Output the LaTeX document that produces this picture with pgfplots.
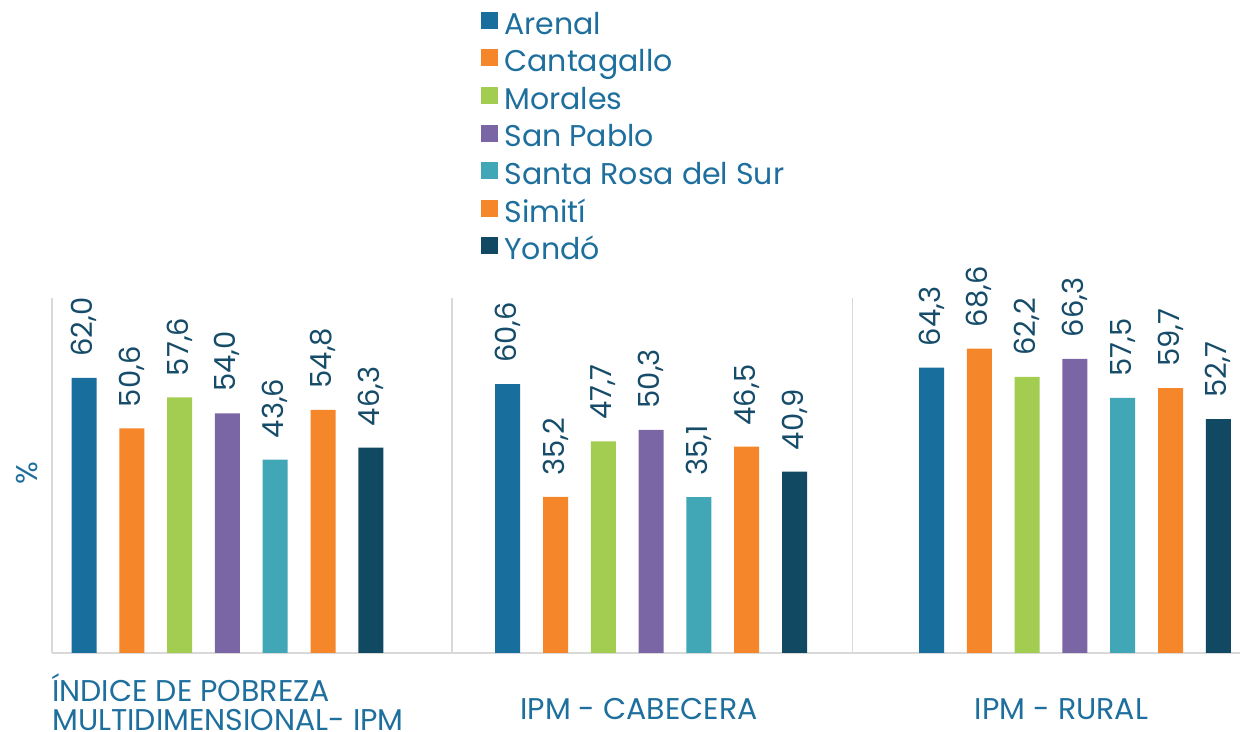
\documentclass[border=0pt]{standalone}
\usepackage{fontspec}
\setmainfont{Poppins}
\usepackage{pgfplots}
\pgfplotsset{compat=1.18}
\definecolor{cA}{HTML}{186E9C}
\definecolor{cB}{HTML}{F5862A}
\definecolor{cC}{HTML}{A2CD50}
\definecolor{cD}{HTML}{7B66A5}
\definecolor{cE}{HTML}{41A7B6}
\definecolor{cF}{HTML}{F5862A}
\definecolor{cG}{HTML}{114963}
\definecolor{txt}{HTML}{1F6F9E}
\definecolor{lbl}{HTML}{164C69}
\definecolor{gridgray}{HTML}{D9D9D9}
\begin{document}
\begin{tikzpicture}
\begin{axis}[
  scale only axis, width=594pt, height=177.5pt,
  xmin=52, xmax=1240, ymin=0, ymax=80,
  axis lines*=left,
  axis line style={draw=gridgray, line width=1pt},
  ytick=\empty,
  xtick={228,639,1061.5},
  xticklabels={{\smash{Í}NDICE DE POBREZA\\MULTIDIMENSIONAL- IPM},{\raisebox{-2pt}[\height][\depth]{IPM - CABECERA}},{\raisebox{-2pt}[\height][\depth]{IPM - RURAL}}},
  xticklabel style={align=left, anchor=center, inner sep=0pt, yshift=-26.2pt, font=\fontsize{15}{14.6}\selectfont, text=txt},
  xtick style={draw=none},
  extra x ticks={451.7,852.3}, extra x tick labels={,},
  extra x tick style={grid=major, major grid style={draw=gridgray, line width=0.8pt}},
  ylabel={\%}, ylabel style={at={(axis description cs:-0.021,0.507)}, anchor=center, font=\fontsize{15}{15}\selectfont, text=txt},
  every axis plot/.append style={ybar, bar width=25, bar shift=0pt, draw=none},
  /pgf/number format/fixed, /pgf/number format/fixed zerofill,
  /pgf/number format/precision=1, /pgf/number format/use comma,
  /pgf/number format/assume math mode=true,
  nodes near coords,
  nodes near coords style={rotate=90, anchor=west, inner xsep=10.5pt, inner ysep=0pt, font=\fontsize{14.5}{14.5}\selectfont, text=lbl},
  legend image code/.code={\fill[#1] (0pt,-1pt) rectangle (8.5pt,7.5pt);},
  legend cell align=left,
  legend style={at={(0.3611,1.818)}, anchor=north west, draw=none, fill=none, inner sep=0pt,
    font=\fontsize{15}{19}\selectfont, text=txt, row sep=0pt, column sep=3pt,
    nodes={inner sep=0pt, text height=13pt, text depth=5.8pt}},
  clip=false,
]
\addplot[fill=cA] coordinates {(84,62.0) (507.7,60.6) (931.5,64.3)};
\addplot[fill=cB] coordinates {(131.8,50.6) (555.5,35.2) (979.3,68.6)};
\addplot[fill=cC] coordinates {(179.6,57.6) (603.3,47.7) (1027.1,62.2)};
\addplot[fill=cD] coordinates {(227.4,54.0) (651.1,50.3) (1074.9,66.3)};
\addplot[fill=cE] coordinates {(275.2,43.6) (698.9,35.1) (1122.7,57.5)};
\addplot[fill=cF] coordinates {(323,54.8) (746.7,46.5) (1170.5,59.7)};
\addplot[fill=cG] coordinates {(370.8,46.3) (794.5,40.9) (1218.3,52.7)};
\legend{Arenal,Cantagallo,Morales,San Pablo,Santa Rosa del Sur,Simití,Yondó}
\end{axis}
\pgfresetboundingbox
\path ([shift={(-26pt,-39.5pt)}]current axis.south west) rectangle ([shift={(594pt,326.5pt)}]current axis.south west);
\end{tikzpicture}
\end{document}
